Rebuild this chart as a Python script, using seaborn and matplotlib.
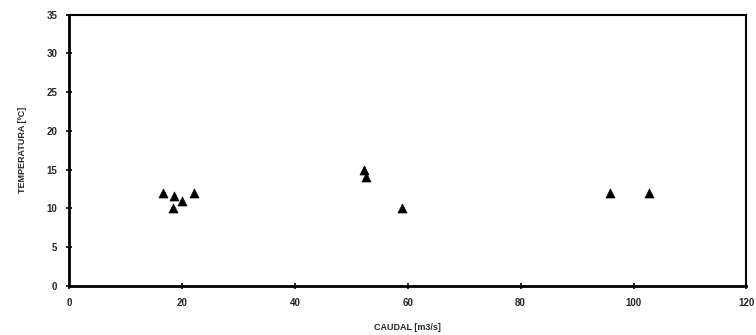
import pandas as pd
import matplotlib
matplotlib.use('Agg')
import matplotlib.pyplot as plt
import seaborn as sns

# Dados
caudal = [16.7, 18.6, 18.5, 20.0, 22.2, 52.2, 52.6, 59.0, 95.9, 102.8]
temperatura = [12.0, 11.6, 10.0, 11.0, 12.0, 15.0, 14.0, 10.0, 12.0, 12.0]

x_ticks = [0, 20, 40, 60, 80, 100, 120]
y_ticks = [0, 5, 10, 15, 20, 25, 30, 35]

df = pd.DataFrame({'caudal': caudal, 'temperatura': temperatura})

sns.set_style('ticks')
plt.rcParams['font.family'] = ['Liberation Sans', 'DejaVu Sans']

fig = plt.figure(figsize=(7.56, 3.35), dpi=100)
ax = fig.add_axes([0.0913, 0.147, 0.896, 0.809])

sns.scatterplot(data=df, x='caudal', y='temperatura', marker='^', color='black',
                s=42, edgecolor='black', linewidth=0.5, ax=ax)

ax.set_xlim(0, 120)
ax.set_ylim(0, 35)
ax.set_xticks(x_ticks)
ax.set_yticks(y_ticks)
ax.tick_params(direction='inout', length=5, width=1.2, color='black',
               labelsize=7, pad=6)
for lbl in ax.get_xticklabels() + ax.get_yticklabels():
    lbl.set_fontweight('bold')

for lado in ['left', 'bottom', 'right', 'top']:
    ax.spines[lado].set_visible(True)
    ax.spines[lado].set_color('black')
ax.spines['left'].set_linewidth(2)
ax.spines['bottom'].set_linewidth(2)
ax.spines['top'].set_linewidth(1.5)
ax.spines['right'].set_linewidth(1.5)

ax.set_xlabel('CAUDAL [m3/s]', fontsize=6.5, fontweight='bold', labelpad=11)
ax.set_ylabel('TEMPERATURA [ºC]', fontsize=6.5, fontweight='bold', labelpad=14)

fig.savefig('out.png', dpi=100)
